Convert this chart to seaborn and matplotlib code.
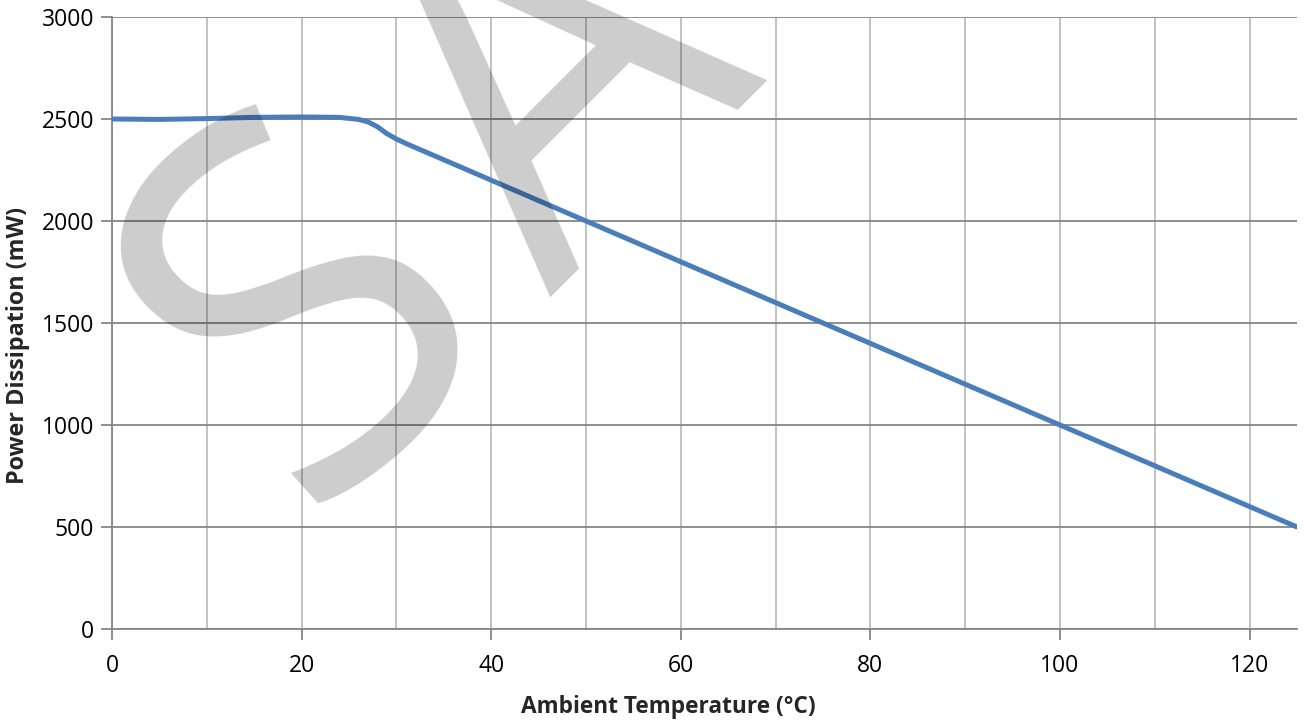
import matplotlib
matplotlib.use("Agg")
import matplotlib.pyplot as plt
import seaborn as sns
import pandas as pd
from matplotlib.ticker import MultipleLocator

temp_c = [0, 5, 10, 15, 20, 24, 26, 27, 28, 29, 30, 31, 40, 50, 60, 70, 80, 90, 100, 110, 120, 125]
power_mw = [2500, 2498, 2502, 2508, 2510, 2508, 2498, 2486, 2462, 2428, 2402, 2380,
            2200, 2000, 1800, 1600, 1400, 1200, 1000, 800, 600, 500]
x_ticks = [0, 20, 40, 60, 80, 100, 120]
y_ticks = [0, 500, 1000, 1500, 2000, 2500, 3000]

df = pd.DataFrame({"temp": temp_c, "power": power_mw})

sns.set_theme(style="white")
plt.rcParams['font.family'] = ['Open Sans', 'DejaVu Sans']

W, H = 1306, 721
fig = plt.figure(figsize=(W / 100, H / 100), dpi=100)
ax = fig.add_axes([112/W, 1 - 629/H, (1297-112)/W, (629-17)/H])

sns.lineplot(data=df, x="temp", y="power", ax=ax, color="#4a7ebb", linewidth=3.6, zorder=5)

ax.set_xlim(0, 125)
ax.set_ylim(0, 3000)
ax.set_xticks(x_ticks)
ax.set_yticks(y_ticks)
ax.xaxis.set_minor_locator(MultipleLocator(10))

ax.grid(False)
ax.yaxis.grid(True, which="major", color="#868686", linewidth=1.3, zorder=1)
ax.xaxis.grid(True, which="minor", color="#bdbdbd", linewidth=1.3, zorder=1)
ax.xaxis.grid(True, which="major", color="#bdbdbd", linewidth=1.3, zorder=1)
ax.set_axisbelow(True)

for s in ["top", "right"]:
    ax.spines[s].set_visible(False)
for s in ["left", "bottom"]:
    ax.spines[s].set_color("#868686")
    ax.spines[s].set_linewidth(1.3)

ax.tick_params(axis="x", which="major", direction="out", length=8, width=1.3,
               color="#868686", pad=10, labelsize=16.5, labelcolor="black", bottom=True)
ax.tick_params(axis="x", which="minor", length=0, bottom=False)
ax.tick_params(axis="y", which="major", direction="out", length=8, width=1.3,
               color="#868686", pad=5, labelsize=16.5, labelcolor="black", left=True)

ax.set_xlabel("Ambient Temperature (°C)", fontsize=16.3, fontweight="bold", va="center")
ax.set_ylabel("Power Dissipation (mW)", fontsize=16.8, fontweight="bold", va="center")
ax.xaxis.set_label_coords((668 - 112) / 1185, (629 - 707) / 612)
ax.yaxis.set_label_coords((18 - 112) / 1185, (629 - 345) / 612)

# watermark letters
wm = dict(rotation_mode="anchor", ha="center", va="baseline",
          color="black", alpha=0.2, zorder=20)
fig.text(405/W, 1 - 418/H, "S", fontsize=368, rotation=42, **wm)
fig.text(660/W, 1 - 188/H, "A", fontsize=350, rotation=45, **wm)

fig.savefig("out.png", dpi=100, facecolor="white")
